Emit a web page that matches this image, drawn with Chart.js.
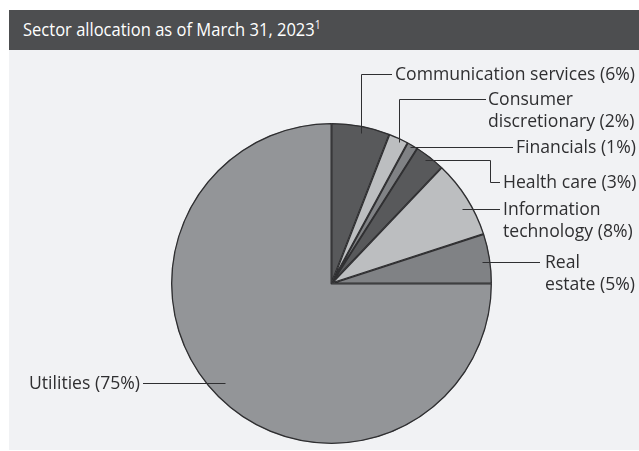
<!DOCTYPE html>
<html><head><meta charset="utf-8">
<script src="https://cdn.jsdelivr.net/npm/chart.js@4/dist/chart.umd.min.js"></script>
<style>
html,body{margin:0;padding:0;background:#fff;}
#wrap{position:absolute;left:9px;top:10px;width:630px;height:440px;background:#f1f2f4;}
#hdr{position:absolute;left:0;top:0;width:630px;height:40px;background:#4d4e50;color:#fff;font-family:"Open Sans",sans-serif;font-size:19px;line-height:40px;}
#hdr span{position:absolute;left:14px;top:-1px;white-space:nowrap;transform:scaleX(0.87);transform-origin:0 50%;}
#hdr sup{font-size:12px;vertical-align:7px;line-height:0;}
#cv{position:absolute;left:0;top:40px;}
</style></head>
<body>
<div id="wrap">
<div id="hdr"><span>Sector allocation as of March 31, 2023<sup>1</sup></span></div>
<canvas id="cv" width="630" height="400"></canvas>
</div>
<script>
const categories = ["Communication services","Consumer discretionary","Financials","Health care","Information technology","Real estate","Utilities"];
const values = [5.9, 2.0, 1.1, 3.1, 7.9, 5.0, 75.0];
const labelLines = [
  ["Communication services (6%)"],
  ["Consumer","discretionary (2%)"],
  ["Financials (1%)"],
  ["Health care (3%)"],
  ["Information","technology (8%)"],
  ["Real","estate (5%)"],
  ["Utilities (75%)"]
];
const colors = ["#58595b","#bcbec0","#808285","#58595b","#bcbec0","#808285","#939598"];

// label layout (page coordinates): text x, first-line y, route, line end
const OX = 9, OY = 50;
const layout = [
  {tx:395, ty:74, align:'left', route:'upRight', lx:392},
  {tx:488, ty:99, align:'left', route:'upRight', lx:486},
  {tx:516, ty:null, align:'left', route:'right', lx:513},
  {tx:503, ty:182, align:'left', route:'rightDownRight', bx:490, lx:500},
  {tx:503, ty:null, align:'left', route:'right', lx:500},
  {tx:545, ty:null, align:'left', route:'right', lx:540},
  {tx:140, ty:null, align:'right', route:'left', lx:143}
];
// anchor position inside each slice: fraction along the slice's angle, fraction of radius
const anchorT = [0.52,0.59,0.37,0.42,0.59,0.55,0.507];
const anchorR = [0.953,0.977,0.98,0.966,0.935,0.947,0.908];

const leaderPlugin = {
  id:'leaders',
  afterDatasetsDraw(chart){
    const ctx = chart.ctx;
    const meta = chart.getDatasetMeta(0);
    ctx.save();
    ctx.translate(-OX,-OY);
    ctx.strokeStyle = '#2f2f31';
    ctx.lineWidth = 1;
    ctx.fillStyle = '#2f2f31';
    ctx.font = '17.6px "Open Sans", sans-serif';
    ctx.textBaseline = 'middle';
    meta.data.forEach((arc,i)=>{
      const p = arc.getProps(['x','y','startAngle','endAngle','outerRadius'],true);
      const ang = p.startAngle + (p.endAngle-p.startAngle)*anchorT[i];
      const r = p.outerRadius*anchorR[i];
      const ax = p.x + Math.cos(ang)*r + OX;
      const ay = Math.round(p.y + Math.sin(ang)*r + OY)+0.5;
      const L = layout[i];
      const ty = L.ty===null ? ay : L.ty+0.5;
      ctx.beginPath();
      ctx.moveTo(Math.round(ax)+0.5, ay);
      if(L.route==='upRight'){
        ctx.lineTo(Math.round(ax)+0.5, ty);
        ctx.lineTo(L.lx, ty);
      } else if(L.route==='rightDownRight'){
        ctx.lineTo(L.bx+0.5, ay);
        ctx.lineTo(L.bx+0.5, ty);
        ctx.lineTo(L.lx, ty);
      } else {
        ctx.lineTo(L.lx, ay);
      }
      ctx.stroke();
      ctx.textAlign = L.align;
      labelLines[i].forEach((t,k)=>{
        ctx.fillText(t, L.tx, ty + k*22.5);
      });
    });
    ctx.restore();
  }
};

new Chart(document.getElementById('cv'), {
  type:'pie',
  data:{labels:categories, datasets:[{data:values, backgroundColor:colors, borderColor:'#2f2f31', borderWidth:1, borderAlign:'inner'}]},
  options:{
    responsive:false, animation:false,
    radius:160.5,
    layout:{padding:{left:15,right:0,top:67,bottom:0}},
    plugins:{legend:{display:false}, tooltip:{enabled:false}}
  },
  plugins:[leaderPlugin]
});
</script>
</body></html>
